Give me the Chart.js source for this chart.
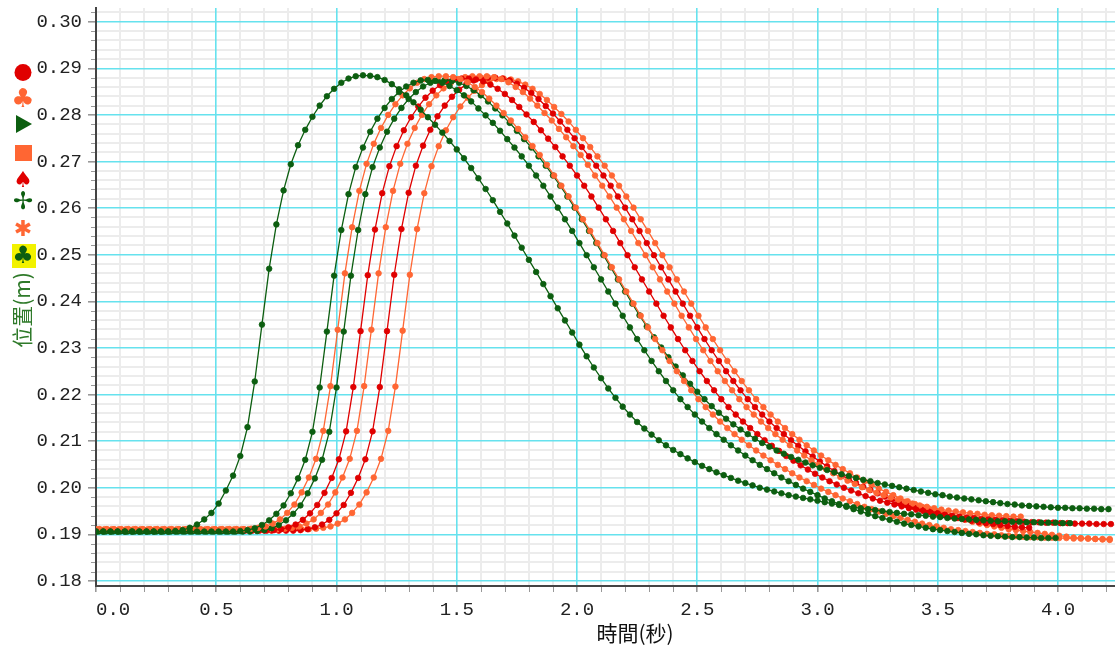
<!DOCTYPE html>
<html><head><meta charset="utf-8">
<script src="https://cdn.jsdelivr.net/npm/chart.js@4.4.1/dist/chart.umd.min.js"></script>
<style>html,body{margin:0;padding:0;background:#fff;overflow:hidden}#wrap{position:relative;width:1115px;height:649px}</style>
</head><body><div id="wrap"><canvas id="c" width="1115" height="649"></canvas></div>
<script>
// ---- data ----
const frameStep = 0.03;
const xTickValues = [0, 0.5, 1.0, 1.5, 2.0, 2.5, 3.0, 3.5, 4.0];
const xTickLabels = ['0.0','0.5','1.0','1.5','2.0','2.5','3.0','3.5','4.0'];
const yTickValues = [0.18,0.19,0.20,0.21,0.22,0.23,0.24,0.25,0.26,0.27,0.28,0.29,0.30];
const yTickLabels = ['0.18','0.19','0.20','0.21','0.22','0.23','0.24','0.25','0.26','0.27','0.28','0.29','0.30'];
const xTitle = '時間(秒)';
const yTitle = '位置(m)';
const startTimes = [0, 0, 0.015, 0.01, 0.02, 0.005, 0.01, 0.015];

const greenA = [0.1906,0.1906,0.1906,0.1906,0.1906,0.1906,0.1906,0.1906,0.1906,0.1906,0.1906,
0.1907,0.1909,0.1914,0.1921,0.1932,0.1946,0.1966,0.1994,0.2026,0.2068,
0.2130,0.2228,0.2350,0.2470,0.2565,0.2638,0.2694,0.2735,0.2768,0.2796,
0.2820,0.2840,0.2856,0.2869,0.2878,0.2883,0.2885,0.2884,0.2881,0.2875,
0.2866,0.2855,0.2842,0.2827,0.2811,0.2795,0.2779,0.2762,0.2744,0.2726,
0.2707,0.2686,0.2664,0.2641,0.2617,0.2592,0.2567,0.2541,0.2515,0.2489,
0.2463,0.2437,0.2411,0.2385,0.2359,0.2333,0.2307,0.2282,0.2258,0.2235,
0.2213,0.2193,0.2174,0.2157,0.2141,0.2127,0.2114,0.2102,0.2091,0.2081,
0.2072,0.2063,0.2055,0.2047,0.2040,0.2033,0.2027,0.2021,0.2015,0.2010,
0.2005,0.2000,0.1996,0.1992,0.1988,0.1984,0.1981,0.1978,0.1975,0.1972,
0.1969,0.1966,0.1963,0.1961,0.1958,0.1956,0.1954,0.1952,0.1950,0.1948,
0.1946,0.1944,0.1943,0.1941,0.1940,0.1938,0.1937,0.1935,0.1934,0.1933,
0.1932,0.1931,0.1930,0.1929,0.1928,0.1928,0.1927,0.1927,0.1926,0.1926,
0.1925,0.1925,0.1925,0.1924,0.1924];

const greenB = [0.1906,0.1906,0.1906,0.1906,0.1906,0.1906,0.1906,0.1906,0.1906,0.1906,
0.1906,0.1906,0.1906,0.1906,0.1906,0.1906,0.1906,0.1906,0.1906,0.1906,
0.1907,0.1909,0.1913,0.1920,0.1930,0.1944,0.1962,0.1988,0.2020,0.2060,
0.2120,0.2215,0.2335,0.2455,0.2553,0.2630,0.2688,0.2730,0.2764,0.2792,
0.2815,0.2834,0.2849,0.2861,0.2869,0.2874,0.2875,0.2873,0.2869,0.2862,
0.2853,0.2842,0.2829,0.2814,0.2799,0.2783,0.2766,0.2748,0.2730,0.2711,
0.2691,0.2670,0.2648,0.2625,0.2601,0.2576,0.2551,0.2525,0.2499,0.2473,
0.2447,0.2421,0.2395,0.2369,0.2344,0.2319,0.2295,0.2272,0.2250,0.2229,
0.2209,0.2190,0.2173,0.2157,0.2142,0.2128,0.2115,0.2103,0.2091,0.2080,
0.2069,0.2059,0.2049,0.2040,0.2031,0.2022,0.2014,0.2006,0.1998,0.1991,
0.1984,0.1977,0.1971,0.1965,0.1959,0.1954,0.1949,0.1944,0.1939,0.1935,
0.1931,0.1927,0.1923,0.1920,0.1917,0.1914,0.1911,0.1909,0.1907,0.1905,
0.1903,0.1901,0.1900,0.1898,0.1897,0.1896,0.1895,0.1894,0.1894,0.1893,
0.1893,0.1892,0.1892,0.1892];

const orangeC = [0.1911,0.1911,0.1911,0.1911,0.1911,0.1911,0.1911,0.1911,0.1911,0.1911,
0.1911,0.1911,0.1911,0.1911,0.1911,0.1911,0.1911,0.1911,0.1911,0.1911,0.1911,
0.1912,0.1914,0.1917,0.1923,0.1932,0.1946,0.1964,0.1990,0.2022,0.2062,
0.2122,0.2218,0.2339,0.2460,0.2559,0.2637,0.2695,0.2738,0.2772,0.2800,
0.2823,0.2842,0.2857,0.2869,0.2877,0.2881,0.2883,0.2883,0.2881,0.2877,
0.2870,0.2860,0.2849,0.2835,0.2820,0.2804,0.2788,0.2770,0.2752,0.2733,
0.2714,0.2693,0.2670,0.2648,0.2625,0.2601,0.2576,0.2551,0.2525,0.2499,
0.2473,0.2447,0.2421,0.2395,0.2369,0.2344,0.2319,0.2295,0.2272,0.2250,
0.2229,0.2209,0.2190,0.2173,0.2157,0.2142,0.2128,0.2115,0.2103,0.2091,
0.2080,0.2069,0.2059,0.2049,0.2040,0.2031,0.2022,0.2014,0.2006,0.1998,
0.1991,0.1984,0.1977,0.1971,0.1965,0.1959,0.1954,0.1949,0.1944,0.1939,
0.1935,0.1931,0.1927,0.1923,0.1920,0.1917,0.1914,0.1911,0.1909,0.1907,
0.1905,0.1903,0.1901,0.1900,0.1898,0.1897,0.1896,0.1895,0.1894,0.1894,
0.1893,0.1893,0.1892,0.1892,0.1891,0.1891,0.1891,0.1890,0.1890,0.1890];

const greenD = [0.1906,0.1906,0.1906,0.1906,0.1906,0.1906,0.1906,0.1906,0.1906,0.1906,
0.1906,0.1906,0.1906,0.1906,0.1906,0.1906,0.1906,0.1906,0.1906,0.1906,0.1906,0.1906,
0.1907,0.1909,0.1913,0.1920,0.1930,0.1944,0.1962,0.1988,0.2020,0.2060,
0.2120,0.2215,0.2335,0.2455,0.2553,0.2630,0.2688,0.2730,0.2764,0.2792,
0.2815,0.2834,0.2849,0.2861,0.2869,0.2874,0.2875,0.2873,0.2869,0.2862,
0.2853,0.2842,0.2829,0.2814,0.2799,0.2783,0.2766,0.2748,0.2730,0.2711,
0.2691,0.2670,0.2648,0.2625,0.2601,0.2576,0.2551,0.2525,0.2499,0.2473,
0.2447,0.2421,0.2395,0.2370,0.2346,0.2323,0.2301,0.2280,0.2260,0.2241,
0.2223,0.2206,0.2190,0.2175,0.2161,0.2148,0.2136,0.2125,0.2115,0.2105,
0.2096,0.2088,0.2080,0.2073,0.2066,0.2060,0.2054,0.2048,0.2043,0.2038,
0.2033,0.2029,0.2025,0.2021,0.2017,0.2014,0.2010,0.2007,0.2004,0.2001,
0.1998,0.1995,0.1992,0.1989,0.1986,0.1984,0.1981,0.1979,0.1977,0.1975,
0.1973,0.1971,0.1969,0.1967,0.1965,0.1964,0.1962,0.1961,0.1960,0.1959,
0.1958,0.1957,0.1957,0.1956,0.1956,0.1955,0.1955,0.1954,0.1954];

const redE = [0.1908,0.1908,0.1908,0.1908,0.1908,0.1908,0.1908,0.1908,0.1908,0.1908,
0.1908,0.1908,0.1908,0.1908,0.1908,0.1908,0.1908,0.1908,0.1908,0.1908,0.1908,0.1908,0.1908,0.1908,
0.1909,0.1911,0.1915,0.1921,0.1931,0.1945,0.1963,0.1989,0.2021,0.2061,
0.2121,0.2216,0.2336,0.2456,0.2554,0.2632,0.2690,0.2733,0.2767,0.2795,
0.2818,0.2837,0.2852,0.2864,0.2872,0.2877,0.2878,0.2878,0.2876,0.2872,
0.2865,0.2856,0.2845,0.2832,0.2817,0.2801,0.2785,0.2767,0.2749,0.2731,
0.2711,0.2691,0.2670,0.2648,0.2625,0.2601,0.2576,0.2551,0.2525,0.2499,
0.2473,0.2447,0.2421,0.2395,0.2369,0.2344,0.2319,0.2295,0.2272,0.2250,
0.2229,0.2209,0.2190,0.2173,0.2157,0.2142,0.2128,0.2115,0.2102,0.2090,
0.2079,0.2068,0.2058,0.2048,0.2039,0.2030,0.2022,0.2014,0.2007,0.2000,
0.1994,0.1988,0.1982,0.1977,0.1972,0.1968,0.1964,0.1960,0.1956,0.1953,
0.1950,0.1947,0.1945,0.1942,0.1940,0.1938,0.1936,0.1935,0.1933,0.1932,
0.1931,0.1930,0.1929,0.1928,0.1927,0.1926,0.1926,0.1925,0.1925,0.1924,
0.1924,0.1923,0.1923,0.1923,0.1922,0.1922,0.1922];

const orangeF = [0.1911,0.1911,0.1911,0.1911,0.1911,0.1911,0.1911,0.1911,0.1911,0.1911,
0.1911,0.1911,0.1911,0.1911,0.1911,0.1911,0.1911,0.1911,0.1911,0.1911,
0.1911,0.1911,0.1911,0.1911,0.1911,0.1911,
0.1912,0.1914,0.1917,0.1923,0.1932,0.1946,0.1964,0.1990,0.2022,0.2062,
0.2122,0.2218,0.2339,0.2460,0.2559,0.2637,0.2695,0.2738,0.2772,0.2800,
0.2823,0.2842,0.2857,0.2869,0.2877,0.2881,0.2883,0.2883,0.2883,0.2881,
0.2877,0.2870,0.2860,0.2849,0.2835,0.2820,0.2804,0.2788,0.2770,0.2752,
0.2733,0.2714,0.2693,0.2670,0.2648,0.2625,0.2601,0.2576,0.2551,0.2525,
0.2499,0.2473,0.2447,0.2421,0.2395,0.2369,0.2344,0.2319,0.2295,0.2272,
0.2250,0.2229,0.2209,0.2190,0.2173,0.2157,0.2142,0.2128,0.2115,0.2103,
0.2091,0.2080,0.2069,0.2059,0.2049,0.2040,0.2031,0.2023,0.2015,0.2008,
0.2001,0.1995,0.1989,0.1984,0.1979,0.1974,0.1970,0.1966,0.1962,0.1959,
0.1956,0.1953,0.1951,0.1949,0.1947,0.1945,0.1944,0.1942,0.1941,0.1940,
0.1939,0.1938,0.1938];

const redG = [0.1908,0.1908,0.1908,0.1908,0.1908,0.1908,0.1908,0.1908,0.1908,0.1908,
0.1908,0.1908,0.1908,0.1908,0.1908,0.1908,0.1908,0.1908,0.1908,0.1908,
0.1908,0.1908,0.1908,0.1908,0.1908,0.1908,0.1908,0.1908,
0.1909,0.1911,0.1915,0.1921,0.1931,0.1945,0.1963,0.1989,0.2021,0.2061,
0.2121,0.2216,0.2336,0.2457,0.2555,0.2633,0.2691,0.2734,0.2768,0.2797,
0.2820,0.2839,0.2854,0.2866,0.2874,0.2879,0.2880,0.2880,0.2878,0.2874,
0.2867,0.2858,0.2847,0.2834,0.2819,0.2803,0.2786,0.2768,0.2750,0.2731,
0.2711,0.2691,0.2670,0.2648,0.2625,0.2601,0.2576,0.2551,0.2525,0.2499,
0.2473,0.2447,0.2421,0.2395,0.2369,0.2344,0.2319,0.2295,0.2272,0.2250,
0.2229,0.2209,0.2190,0.2173,0.2157,0.2142,0.2128,0.2115,0.2102,0.2090,
0.2078,0.2067,0.2056,0.2046,0.2036,0.2027,0.2018,0.2010,0.2002,0.1995,
0.1988,0.1981,0.1975,0.1969,0.1964,0.1959,0.1954,0.1950,0.1946,0.1942,
0.1938,0.1935,0.1932,0.1929,0.1926,0.1924,0.1922,0.1920,0.1918,0.1916,
0.1915,0.1914];

const orangeH = [0.1911,0.1911,0.1911,0.1911,0.1911,0.1911,0.1911,0.1911,0.1911,0.1911,
0.1911,0.1911,0.1911,0.1911,0.1911,0.1911,0.1911,0.1911,0.1911,0.1911,
0.1911,0.1911,0.1911,0.1911,0.1911,0.1911,0.1911,0.1911,0.1911,0.1911,
0.1912,0.1914,0.1917,0.1923,0.1932,0.1946,0.1964,0.1990,0.2022,0.2062,
0.2122,0.2217,0.2337,0.2457,0.2555,0.2632,0.2690,0.2733,0.2767,0.2795,
0.2818,0.2837,0.2852,0.2864,0.2872,0.2877,0.2878,0.2876,0.2872,0.2865,
0.2856,0.2845,0.2832,0.2817,0.2802,0.2786,0.2768,0.2750,0.2731,0.2711,
0.2691,0.2670,0.2648,0.2625,0.2601,0.2576,0.2551,0.2525,0.2499,0.2473,
0.2447,0.2421,0.2395,0.2369,0.2344,0.2319,0.2295,0.2272,0.2250,0.2229,
0.2209,0.2190,0.2173,0.2157,0.2142,0.2128,0.2115,0.2103,0.2091,0.2080,
0.2069,0.2059,0.2049,0.2040,0.2031,0.2022,0.2014,0.2006,0.1998,0.1991,
0.1984,0.1977,0.1971,0.1965,0.1959,0.1954,0.1949,0.1944,0.1939,0.1935,
0.1931,0.1927,0.1923,0.1920,0.1917,0.1914,0.1911,0.1909,0.1907,0.1905,
0.1903,0.1901,0.1899,0.1897,0.1895,0.1893,0.1892,0.1891,0.1890,0.1889,0.1888];

// ---- styles ----
const GREEN = '#0c5e10', RED = '#e00000', ORANGE = '#ff6633';
const seriesList = [
  {values: greenA, color: GREEN}, {values: greenB, color: GREEN},
  {values: orangeC, color: ORANGE}, {values: greenD, color: GREEN},
  {values: redE, color: RED}, {values: orangeF, color: ORANGE},
  {values: redG, color: RED}, {values: orangeH, color: ORANGE}
];
const datasets = seriesList.map((s, k) => ({
  data: s.values.map((v, i) => ({x: startTimes[k] + i * frameStep, y: v})),
  borderColor: s.color, backgroundColor: s.color,
  borderWidth: 1.3, pointRadius: 2.8, pointBorderWidth: 0.8,
  pointBackgroundColor: s.color, pointBorderColor: s.color,
  pointStyle: 'circle', tension: 0, fill: false
}));

const TICK_FONT = {family: '"Liberation Mono", monospace', size: 19};
const PLOT_RIGHT = 1115;

const fixArea = {
  id: 'fixArea',
  afterLayout(chart) {
    const x = chart.scales.x;
    chart.chartArea.right = PLOT_RIGHT;
    chart.chartArea.width = PLOT_RIGHT - chart.chartArea.left;
    x.right = PLOT_RIGHT;
    x.width = PLOT_RIGHT - x.left;
    x.configure();
  }
};

const minorGrid = {
  id: 'minorGrid',
  beforeDraw(chart) {
    const {ctx, chartArea: a, scales: {x, y}} = chart;
    ctx.save();
    ctx.strokeStyle = '#ececec'; ctx.lineWidth = 2;
    for (let m = 180; m <= 302; m += 2) {
      if (m % 10 === 0) continue;
      const py = Math.round(y.getPixelForValue(m / 1000));
      ctx.beginPath(); ctx.moveTo(a.left, py); ctx.lineTo(a.right, py); ctx.stroke();
    }
    for (let k = 1; k <= 42; k++) {
      if (k % 5 === 0) continue;
      const px = Math.round(x.getPixelForValue(k / 10));
      ctx.beginPath(); ctx.moveTo(px, a.top); ctx.lineTo(px, a.bottom); ctx.stroke();
    }
    ctx.strokeStyle = '#999'; ctx.lineWidth = 1;
    for (let m = 180; m <= 302; m += 2) {
      if (m % 10 === 0) continue;
      const py = Math.round(y.getPixelForValue(m / 1000)) + 0.5;
      ctx.beginPath(); ctx.moveTo(a.left - 5, py); ctx.lineTo(a.left, py); ctx.stroke();
    }
    for (let k = 1; k <= 42; k++) {
      if (k % 5 === 0) continue;
      const px = Math.round(x.getPixelForValue(k / 10)) + 0.5;
      ctx.beginPath(); ctx.moveTo(px, a.bottom); ctx.lineTo(px, a.bottom + 6); ctx.stroke();
    }
    ctx.restore();
  }
};

const decorations = {
  id: 'decorations',
  afterDraw(chart) {
    const {ctx, scales: {x}} = chart;
    ctx.save();
    ctx.font = '19px "Liberation Mono", monospace';
    ctx.fillStyle = '#222'; ctx.textBaseline = 'middle';
    xTickValues.forEach((v, i) => {
      const px = x.getPixelForValue(v);
      ctx.textAlign = i === 0 ? 'left' : 'center';
      ctx.fillText(xTickLabels[i], px, 610);
    });
    ctx.font = '21px "Noto Sans CJK TC", sans-serif';
    ctx.fillStyle = '#111'; ctx.textAlign = 'center'; ctx.textBaseline = 'middle';
    ctx.fillText(xTitle, 635, 633);
    ctx.save();
    ctx.translate(22, 310); ctx.rotate(-Math.PI / 2);
    ctx.fillStyle = '#2f7a2a';
    ctx.fillText(yTitle, 0, 0);
    ctx.restore();
    // legend symbols
    const cx = 23;
    ctx.textAlign = 'center'; ctx.textBaseline = 'middle';
    ctx.fillStyle = RED; ctx.beginPath(); ctx.arc(cx, 72.5, 8.5, 0, Math.PI * 2); ctx.fill();
    ctx.font = '26px "DejaVu Sans"';
    ctx.fillStyle = ORANGE; ctx.fillText('\u2663', cx, 100);
    ctx.fillStyle = GREEN; ctx.beginPath(); ctx.moveTo(16, 115); ctx.lineTo(32, 124); ctx.lineTo(16, 133); ctx.closePath(); ctx.fill();
    ctx.fillStyle = ORANGE; ctx.fillRect(15, 145, 17, 16);
    ctx.font = '22px "DejaVu Sans"';
    ctx.fillStyle = RED; ctx.fillText('\u2660', cx, 181);
    ctx.font = 'bold 24px "DejaVu Sans"';
    ctx.fillStyle = GREEN; ctx.fillText('\u2722', cx, 203);
    ctx.fillStyle = ORANGE; ctx.font = 'bold 22px "DejaVu Sans"'; ctx.fillText('\u2731', cx, 230);
    ctx.fillStyle = '#f2f200'; ctx.fillRect(12, 244, 24, 24);
    ctx.fillStyle = GREEN; ctx.font = '24px "DejaVu Sans"'; ctx.fillText('\u2663', cx, 257);
    ctx.restore();
  }
};

new Chart(document.getElementById('c'), {
  type: 'line',
  data: {datasets},
  options: {
    responsive: false, animation: false, devicePixelRatio: 1,
    layout: {padding: {top: 8, left: 0, right: 0, bottom: 0}},
    plugins: {legend: {display: false}, tooltip: {enabled: false}},
    scales: {
      x: {
        type: 'linear', min: 0, max: 4.237,
        afterBuildTicks: s => { s.ticks = xTickValues.map(v => ({value: v})); },
        afterFit: s => { s.height = 63; s.paddingLeft = 0; s.paddingRight = 0; },
        ticks: {display: false, autoSkip: false, maxRotation: 0},
        grid: {color: '#66e2ee', lineWidth: 1.6, tickLength: 6, tickColor: '#999'},
        border: {color: '#444', width: 2}
      },
      y: {
        type: 'linear', min: 0.17891, max: 0.30294,
        afterBuildTicks: s => { s.ticks = yTickValues.map(v => ({value: v})); },
        afterFit: s => { s.width = 96; s.paddingTop = 0; s.paddingBottom = 0; },
        ticks: {callback: (v, i) => yTickLabels[i], font: TICK_FONT, color: '#222', padding: 6, autoSkip: false},
        grid: {color: '#66e2ee', lineWidth: 1.6, tickLength: 8, tickColor: '#999'},
        border: {color: '#444', width: 2}
      }
    }
  },
  plugins: [fixArea, minorGrid, decorations]
});
</script>
</body></html>
